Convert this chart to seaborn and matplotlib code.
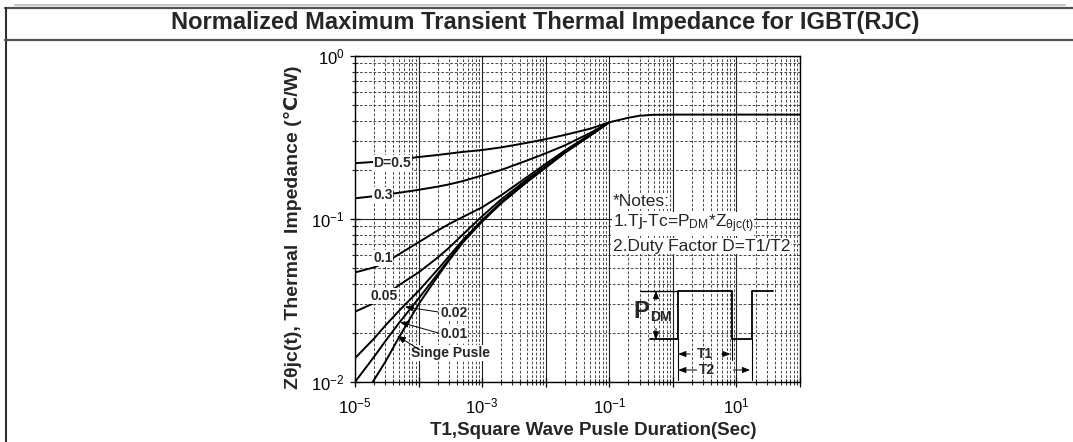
import numpy as np
import pandas as pd
import seaborn as sns
import matplotlib.pyplot as plt
from matplotlib.lines import Line2D
from matplotlib.ticker import LogLocator, FuncFormatter, NullFormatter

# pulse duration (sec) for the duty-cycle curves
t_duty = [1e-5, 2e-5, 3e-5, 5e-5, 1e-4, 2e-4, 3e-4, 5e-4, 1e-3, 2e-3, 5e-3, 1e-2, 2e-2, 5e-2, 0.1]
# Zth (C/W)
z_d05 = [0.220, 0.224, 0.227, 0.232, 0.240, 0.247, 0.252, 0.258, 0.265, 0.275, 0.293, 0.309, 0.328, 0.358, 0.392]
z_d03 = [0.134, 0.138, 0.141, 0.145, 0.151, 0.158, 0.163, 0.171, 0.185, 0.200, 0.228, 0.253, 0.283, 0.337, 0.392]
z_d01 = [0.047, 0.0505, 0.054, 0.061, 0.072, 0.085, 0.093, 0.103, 0.118, 0.140, 0.180, 0.218, 0.263, 0.330, 0.392]
z_d005 = [0.027, 0.0305, 0.034, 0.0395, 0.047, 0.058, 0.0665, 0.0805, 0.104, 0.132, 0.174, 0.211, 0.258, 0.327, 0.392]
z_d002 = [0.014, 0.0185, 0.0222, 0.0275, 0.0362, 0.049, 0.059, 0.0745, 0.0985, 0.127, 0.170, 0.208, 0.256, 0.326, 0.392]
z_d001 = [0.010, 0.0143, 0.0178, 0.0232, 0.0325, 0.046, 0.0565, 0.0728, 0.097, 0.1255, 0.1685, 0.2075, 0.2555, 0.3255, 0.392]

# single pulse, runs on to steady state
t_single = [1.9e-5, 3e-5, 5e-5, 1e-4, 2e-4, 3e-4, 5e-4, 1e-3, 2e-3, 5e-3, 1e-2, 2e-2, 5e-2, 0.1, 0.2, 0.3, 0.5, 1, 100]
z_single = [0.010, 0.0133, 0.019, 0.030, 0.0445, 0.0555, 0.072, 0.0965, 0.125, 0.168, 0.207, 0.255, 0.325, 0.392, 0.418, 0.430, 0.436, 0.437, 0.437]

duty_names = ['0.5', '0.3', '0.1', '0.05', '0.02', '0.01']
duty_z = [z_d05, z_d03, z_d01, z_d005, z_d002, z_d001]

rows = []
for name, zs in zip(duty_names, duty_z):
    for t, z in zip(t_duty, zs):
        rows.append((name, t, z))
for t, z in zip(t_single, z_single):
    rows.append(('single', t, z))
df = pd.DataFrame(rows, columns=['curve', 't', 'z'])

sns.set_style('white')
plt.rcParams['font.family'] = ['Liberation Sans', 'DejaVu Sans']
plt.rcParams['mathtext.default'] = 'regular'
plt.rcParams['axes.unicode_minus'] = False

fig = plt.figure(figsize=(10.73, 4.42), dpi=100)
ax = fig.add_axes([355/1073, 1-382/442, 445/1073, 326/442])

sns.lineplot(data=df, x='t', y='z', units='curve', estimator=None, sort=False,
             color='black', lw=1.4, ax=ax, zorder=3)

ax.set_xscale('log')
ax.set_yscale('log')
ax.set_xlim(1e-5, 100)
ax.set_ylim(0.01, 1)

ax.xaxis.set_major_locator(LogLocator(base=10, numticks=20))
ax.xaxis.set_minor_locator(LogLocator(base=10, subs=np.arange(2, 10), numticks=100))
ax.yaxis.set_minor_locator(LogLocator(base=10, subs=np.arange(2, 10), numticks=100))

def xfmt(v, pos):
    e = int(round(np.log10(v)))
    return r'$\mathregular{10^{%d}}$' % e if e % 2 else ''

ax.xaxis.set_major_formatter(FuncFormatter(xfmt))
ax.yaxis.set_major_formatter(FuncFormatter(lambda v, p: r'$\mathregular{10^{%d}}$' % int(round(np.log10(v)))))
ax.xaxis.set_minor_formatter(NullFormatter())
ax.yaxis.set_minor_formatter(NullFormatter())

ax.grid(which='major', color='#222222', lw=0.8, ls='-')
ax.grid(which='minor', color='#3a3a3a', lw=0.65, ls=(0, (3, 2)))
ax.set_axisbelow(True)
for s in ax.spines.values():
    s.set_color('black')
    s.set_linewidth(1.0)
ax.tick_params(which='major', direction='inout', length=7, width=0.9, labelsize=12, colors='black')
ax.tick_params(which='minor', direction='inout', length=5, width=0.8)
ax.tick_params(axis='x', which='major', pad=7)
ax.tick_params(axis='y', which='major', pad=4)
ax.tick_params(axis='x', which='both', bottom=True, top=False)
ax.tick_params(axis='y', which='both', left=True, right=False)

ax.set_xlabel('T1,Square Wave Pusle Duration(Sec)', fontsize=13.5, fontweight='bold')
ax.set_ylabel('Zθjc(t), Thermal  Impedance (℃/W)', fontsize=14, fontweight='bold')
ax.xaxis.set_label_coords((593-355)/445, -0.122)
ax.yaxis.set_label_coords(-0.12, 0.475)

# curve labels
wb = dict(facecolor='white', edgecolor='none', pad=0.5)
lab = dict(fontsize=10, fontweight='bold', ha='center', va='center', zorder=5, bbox=wb)
ax.text(3.83e-5, 0.221, 'D=0.5', **lab)
ax.text(2.75e-5, 0.140, '0.3', **lab)
ax.text(2.75e-5, 0.0577, '0.1', **lab)
ax.text(2.87e-5, 0.0337, '0.05', **lab)
ax.text(3.6e-4, 0.0265, '0.02', **lab)
ax.text(3.6e-4, 0.0197, '0.01', **lab)
ax.text(3.2e-4, 0.0151, 'Singe Pusle', **lab)

arr = dict(arrowstyle='-|>,head_length=0.5,head_width=0.2', color='black', lw=0.7, shrinkA=0, shrinkB=0)
ax.annotate('', xy=(6.1e-5, 0.0289), xytext=(2.03e-4, 0.0269), arrowprops=arr, zorder=6)
ax.annotate('', xy=(5.1e-5, 0.0233), xytext=(2.03e-4, 0.0200), arrowprops=arr, zorder=6)
ax.annotate('', xy=(4.6e-5, 0.0192), xytext=(1.06e-4, 0.0157), arrowprops=arr, zorder=6)

# notes
nb = dict(facecolor='white', edgecolor='none', pad=0.3)
nt = dict(transform=ax.transAxes, fontsize=12.5, ha='left', va='center', zorder=5, bbox=nb)
ax.text(0.579, 0.555, '*Notes:', **nt)
ax.text(0.579, 0.485, r'1.Tj-Tc=P$_{\mathregular{DM}}$*Z$_{\mathregular{\theta jc(t)}}$', **nt)
ax.text(0.579, 0.417, '2.Duty Factor D=T1/T2', **nt)

# pulse sketch
tr = ax.transAxes
wave_x = [0.6629, 0.7265, 0.7265, 0.8465, 0.8465, 0.8915, 0.8915, 0.94]
wave_y = [0.131, 0.131, 0.2791, 0.2791, 0.131, 0.131, 0.2791, 0.2791]
ax.plot(wave_x, wave_y, color='black', lw=1.3, transform=tr, zorder=4)
ax.plot([0.6404, 0.7265], [0.2791, 0.2791], color='black', lw=1.0, transform=tr, zorder=4)
ax.plot([0.7265, 0.7265], [0.131, 0.006], color='black', lw=0.8, transform=tr, zorder=4)
ax.plot([0.8465, 0.8465], [0.131, 0.0675], color='black', lw=0.8, transform=tr, zorder=4)
ax.plot([0.8915, 0.8915], [0.131, 0.006], color='black', lw=0.8, transform=tr, zorder=4)

sarr = dict(arrowstyle='-|>,head_length=0.45,head_width=0.18', color='black', lw=0.7, shrinkA=0, shrinkB=0)
for tip, tail in [((0.6764, 0.2791), (0.6764, 0.2515)), ((0.6764, 0.131), (0.6764, 0.1647)),
                  ((0.7265, 0.0859), (0.7528, 0.0859)), ((0.8435, 0.0859), (0.824, 0.0859)),
                  ((0.7265, 0.0368), (0.7678, 0.0368)), ((0.8876, 0.0368), (0.8502, 0.0368))]:
    ax.annotate('', xy=tip, xytext=tail, xycoords='axes fraction', arrowprops=sarr, zorder=6)

ax.text(0.6438, 0.2163, 'P', transform=tr, fontsize=17, fontweight='bold', ha='center', va='center', zorder=5)
ax.text(0.663, 0.188, 'DM', transform=tr, fontsize=10, fontweight='bold', ha='left', va='baseline', zorder=5)
ax.text(0.7865, 0.0859, 'T1', transform=tr, fontsize=10, fontweight='bold', ha='center', va='center', zorder=5)
ax.text(0.7903, 0.0368, 'T2', transform=tr, fontsize=10, fontweight='bold', ha='center', va='center', zorder=5)

# header frame and title
fig.add_artist(Line2D([15/1073, 1065/1073], [1-4.5/442]*2, color='#c8c8c8', lw=1.5))
fig.add_artist(Line2D([5/1073, 1], [1-7.5/442]*2, color='#505050', lw=1.6))
fig.add_artist(Line2D([5.5/1073]*2, [1-7.5/442, 0], color='#303030', lw=1.5))
fig.add_artist(Line2D([5/1073, 1], [1-39.5/442]*2, color='#505050', lw=1.6))
fig.text(545/1073, 1-23/442, 'Normalized Maximum Transient Thermal Impedance for IGBT(RJC)',
         fontsize=17, fontweight='bold', ha='center', va='center')

fig.savefig('out.png', dpi=100)
